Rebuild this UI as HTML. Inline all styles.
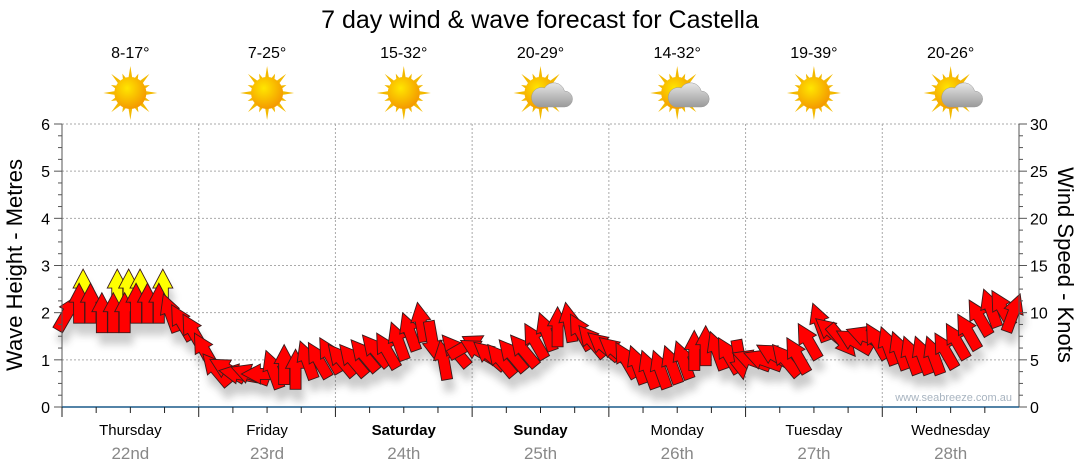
<!DOCTYPE html>
<html><head><meta charset="utf-8">
<style>
body{margin:0;background:#fff;width:1080px;height:475px;overflow:hidden;font-family:"Liberation Sans","DejaVu Sans",sans-serif;}
svg{display:block}
</style></head>
<body>
<svg id="chart" width="1080" height="475" xmlns="http://www.w3.org/2000/svg">
<defs>
<radialGradient id="sunG" cx="40%" cy="35%" r="65%"><stop offset="0" stop-color="#ffe600"/><stop offset="1" stop-color="#f49a00"/></radialGradient>
<linearGradient id="cloudG" x1="0" y1="0" x2="0" y2="1"><stop offset="0" stop-color="#e6e6e6"/><stop offset="1" stop-color="#9a9a9a"/></linearGradient>
<filter id="shadow" x="-50%" y="-50%" width="200%" height="200%"><feGaussianBlur stdDeviation="4"/></filter>
</defs>
<text x="540" y="28" font-size="25" text-anchor="middle" fill="#000">7 day wind &amp; wave forecast for Castella</text>
<g id="grid"></g>
<g id="icons"></g>
<g id="shadows" opacity="0.25" filter="url(#shadow)"></g>
<g id="arrows"></g>
<g id="axes"></g>
<text x="1012" y="401" font-size="11" text-anchor="end" fill="#a8b4c0">www.seabreeze.com.au</text>
<text transform="translate(22,265) rotate(-90)" font-size="22" text-anchor="middle">Wave Height - Metres</text>
<text transform="translate(1058,265) rotate(90)" font-size="22" text-anchor="middle">Wind Speed - Knots</text>
</svg>
<script>
const days=["Thursday","Friday","Saturday","Sunday","Monday","Tuesday","Wednesday"];
const dates=["22nd","23rd","24th","25th","26th","27th","28th"];
const boldDays=[false,false,true,true,false,false,false];
const temps=["8-17°","7-25°","15-32°","20-29°","14-32°","19-39°","20-26°"];
const cloudy=[false,false,false,true,true,false,true];
const leftTicks=[0,1,2,3,4,5,6];
const rightTicks=[0,5,10,15,20,25,30];
const windSpeed=[10,11,11,10,10,10,11,11,11,10,9,8,
6,4,4,3.5,3.5,3.5,4,4.5,4,5,5,5.5,
5,5,5.5,6,6,7,8,9,7,5,6,6.5,
6,5.5,5,5.5,6,7,8,8.5,9,8,7,6.5,
6,5,4.5,4,4,4.5,5,6,6.5,6,5.5,5,
5,5,5.5,5,5.5,7,9,8,7,7,7.5,7,
6.5,6,5.5,5.5,5.5,6,7,8,9.5,10.5,10.5,10];
const windDir=[30,0,0,0,0,0,0,0,0,-20,-30,-30,
-30,-40,-60,-80,-70,-90,-20,0,0,-20,-30,-30,
-40,-40,-40,-40,-30,-20,-20,-10,170,-10,-40,60,
-60,-50,-40,-40,-40,-30,-20,0,-10,-30,-40,-50,
-50,-30,-20,-20,-20,-20,-20,0,0,-20,-30,170,
-70,-70,-60,-40,-30,-30,-20,-50,140,-60,-70,-30,
-20,-20,-20,-20,-20,-30,-30,-30,-30,-20,-30,20];
const gustIdx=[1,4,5,6,8];
const gustSpeed=[12.5,12.5,12.5,12.5,12.5];

const NS="http://www.w3.org/2000/svg";
const X0=62,X1=1019,Y0=407,Y1=124;
const dayW=(X1-X0)/7;
const xT=i=>X0+(i+0.5)*(X1-X0)/windSpeed.length;
const yL=v=>Y0-(v/6)*(Y0-Y1);
const yR=v=>Y0-(v/30)*(Y0-Y1);
function el(t,a,p){const e=document.createElementNS(NS,t);for(const k in a)e.setAttribute(k,a[k]);p.appendChild(e);return e;}
const grid=document.getElementById('grid'),axes=document.getElementById('axes'),icons=document.getElementById('icons');
leftTicks.forEach(v=>{if(v>0){const l=el('line',{x1:X0,x2:X1,y1:yL(v),y2:yL(v),stroke:'#aaa','stroke-dasharray':'2,2'},grid);}
 const t=el('text',{x:50,y:yL(v)+6,'font-size':16,'text-anchor':'end'},axes);t.textContent=v;});
rightTicks.forEach(v=>{const t=el('text',{x:1030,y:yR(v)+6,'font-size':16},axes);t.textContent=v;});
for(let v=0;v<=6.001;v+=0.25){el('line',{x1:X0-(v%1==0?8:4),x2:X0,y1:yL(v),y2:yL(v),stroke:'#555'},axes);}
for(let v=0;v<=30;v+=1.25){el('line',{x1:X1,x2:X1+(v%5==0?8:4),y1:yR(v),y2:yR(v),stroke:'#555'},axes);}
el('line',{x1:X0,x2:X0,y1:Y1,y2:Y0,stroke:'#555'},axes);
el('line',{x1:X1,x2:X1,y1:Y1,y2:Y0,stroke:'#555'},axes);
el('line',{x1:X0,x2:X1,y1:Y0,y2:Y0,stroke:'#1a5a8a','stroke-width':1.5},axes);
for(let d=0;d<7;d++){
 const xs=X0+d*dayW,cx=xs+dayW/2;
 if(d>0){const g=el('line',{x1:xs,x2:xs,y1:Y1,y2:Y0,stroke:'#aaa','stroke-dasharray':'2,2'},grid);}
 for(let k=0;k<4;k++)el('line',{x1:xs+k*dayW/4,x2:xs+k*dayW/4,y1:Y0,y2:Y0+(k==0?10:6),stroke:'#222'},axes);
 const t1=el('text',{x:cx,y:435,'font-size':15,'text-anchor':'middle','font-weight':boldDays[d]?'bold':'normal'},axes);t1.textContent=days[d];
 const t2=el('text',{x:cx,y:459,'font-size':17,'text-anchor':'middle',fill:'#888'},axes);t2.textContent=dates[d];
 const t3=el('text',{x:cx,y:58,'font-size':16,'text-anchor':'middle'},icons);t3.textContent=temps[d];
 const g=el('g',{transform:`translate(${cx},93)`},icons);
 for(let r=0;r<16;r++){const a=r*Math.PI/8,L=r%2?21:27;const p=[[Math.cos(a)*L,Math.sin(a)*L],[Math.cos(a+0.15)*14,Math.sin(a+0.15)*14],[Math.cos(a-0.15)*14,Math.sin(a-0.15)*14]];el('polygon',{points:p.map(q=>q.join(',')).join(' '),fill:'#f3b900'},g);}
 el('circle',{r:16,fill:'url(#sunG)'},g);
 if(cloudy[d]){el('path',{d:'M-2,14 h26 a8,8 0 0 0 0,-16 a11,11 0 0 0 -20,-3 a8,8 0 0 0 -6,19 z',fill:'url(#cloudG)',stroke:'#999','stroke-width':0.5},g);}
}
const shape="0,-20 10,-1 5.5,-1 5.5,20 -5.5,20 -5.5,-1 -10,-1";
const sh=document.getElementById('shadows'),ar=document.getElementById('arrows');
function arrow(x,y,r,fill,isGust){
 const s=el('polygon',{points:shape,fill:'#333',transform:`translate(${x+3},${y+12}) rotate(${r})`},sh);
 
 const a=el('polygon',{points:shape,fill:fill,stroke:'#3a1a1a','stroke-width':0.9,transform:`translate(${x},${y}) rotate(${r})`},ar);
 
}
gustIdx.forEach((i,k)=>arrow(xT(i)+4,yR(gustSpeed[k]),0,'#ffff00',true));
windSpeed.forEach((v,i)=>arrow(xT(i),yR(v),windDir[i],'#ff0000',false));
</script>
</body></html>
